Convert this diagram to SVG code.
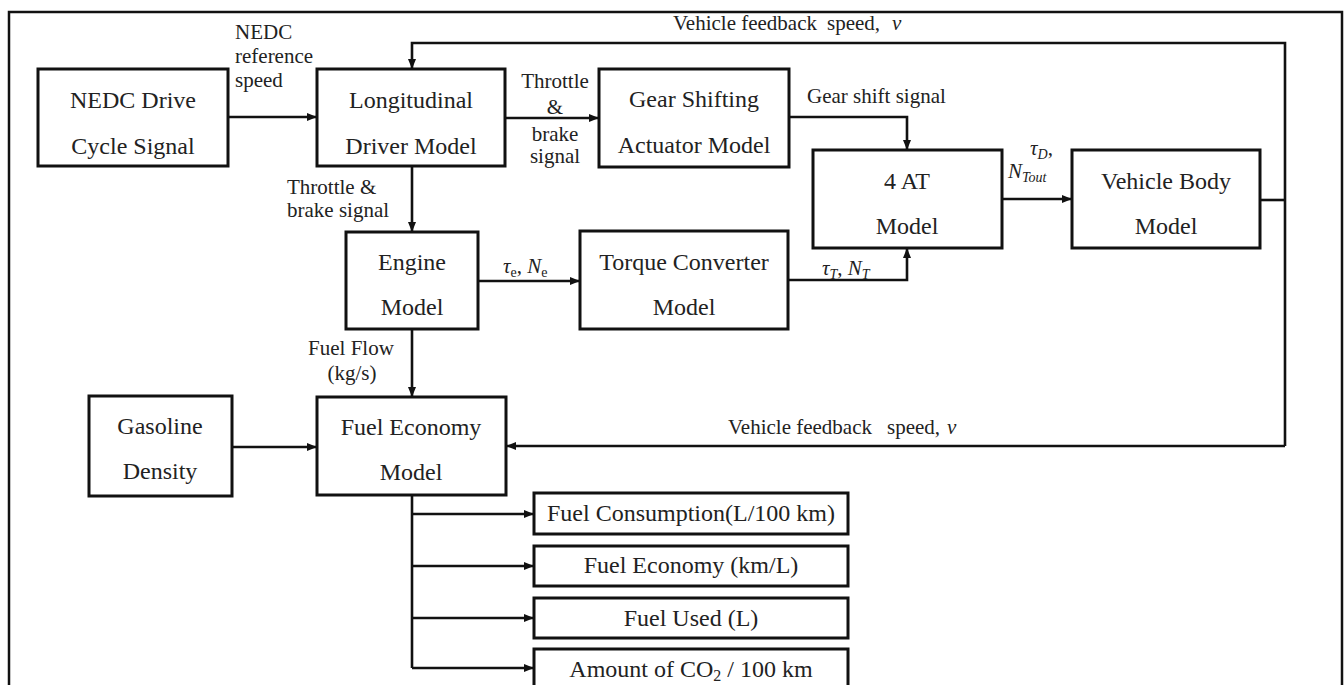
<svg xmlns="http://www.w3.org/2000/svg" width="1344" height="685" viewBox="0 0 1344 685">
<style>
.box{fill:#fff;stroke:#111;stroke-width:3}
.ln{fill:none;stroke:#111;stroke-width:2.6}
.t{font-family:"Liberation Serif","Times New Roman",serif;font-size:24px;fill:#222;text-anchor:middle}
.s{font-family:"Liberation Serif","Times New Roman",serif;font-size:21px;fill:#222}
.m{font-style:italic}
</style>
<defs>
<marker id="ah" markerUnits="userSpaceOnUse" markerWidth="10" markerHeight="8" refX="10" refY="4" orient="auto">
<path d="M0,0 L10,4 L0,8 z" fill="#111"/>
</marker>
</defs>
<rect width="1344" height="685" fill="#fff"/>
<path d="M9,690 V12 H1342 V690" fill="none" stroke="#111" stroke-width="2.5"/>

<g id="connectors">
<path class="ln" d="M228,117 H317" marker-end="url(#ah)"/>
<path class="ln" d="M505,118 H599" marker-end="url(#ah)"/>
<path class="ln" d="M789,117 H907 V150" marker-end="url(#ah)"/>
<path class="ln" d="M412,166 V232" marker-end="url(#ah)"/>
<path class="ln" d="M478,281 H580" marker-end="url(#ah)"/>
<path class="ln" d="M788,280 H907 V248" marker-end="url(#ah)"/>
<path class="ln" d="M1002,199 H1072" marker-end="url(#ah)"/>
<path class="ln" d="M1260,200 H1285"/>
<path class="ln" d="M1285,446 V43 H412 V69" marker-end="url(#ah)"/>
<path class="ln" d="M1285,446 H506" marker-end="url(#ah)"/>
<path class="ln" d="M412,329 V397" marker-end="url(#ah)"/>
<path class="ln" d="M232,447 H317" marker-end="url(#ah)"/>
<path class="ln" d="M412,495 V668"/>
<path class="ln" d="M412,514 H534" marker-end="url(#ah)"/>
<path class="ln" d="M412,566 H534" marker-end="url(#ah)"/>
<path class="ln" d="M412,618 H534" marker-end="url(#ah)"/>
<path class="ln" d="M412,668 H534" marker-end="url(#ah)"/>
</g>

<g id="labels">
<text class="s" x="235" y="39">NEDC</text>
<text class="s" x="235" y="63">reference</text>
<text class="s" x="235" y="87">speed</text>
<text class="s" text-anchor="middle"><tspan x="555" y="88">Throttle</tspan><tspan x="555" y="114">&amp;</tspan><tspan x="555" y="141">brake</tspan><tspan x="555" y="163">signal</tspan></text>
<text class="s" x="287" y="194">Throttle &amp;</text>
<text class="s" x="287" y="217">brake signal</text>
<text class="s" x="807" y="103">Gear shift signal</text>
<text class="s"><tspan x="673" y="30">Vehicle feedback</tspan><tspan x="827" y="30">speed,</tspan><tspan class="m" x="892" y="30">v</tspan></text>
<text class="s"><tspan x="728" y="434">Vehicle feedback</tspan><tspan x="887" y="434">speed,</tspan><tspan class="m" x="947" y="434">v</tspan></text>
<text class="s" text-anchor="middle"><tspan x="351" y="355">Fuel Flow</tspan><tspan x="352" y="380">(kg/s)</tspan></text>
<text class="s" x="503" y="273"><tspan class="m">τ</tspan><tspan font-size="14" dy="4">e</tspan><tspan dy="-4">, </tspan><tspan class="m">N</tspan><tspan font-size="14" dy="4">e</tspan></text>
<text class="s" x="822" y="275"><tspan class="m">τ</tspan><tspan class="m" font-size="14" dy="4">T</tspan><tspan dy="-4">, </tspan><tspan class="m">N</tspan><tspan class="m" font-size="14" dy="4">T</tspan></text>
<text class="s" x="1030" y="155"><tspan class="m">τ</tspan><tspan class="m" font-size="14" dy="4">D</tspan><tspan dy="-4">,</tspan></text>
<text class="s" x="1008" y="178"><tspan class="m">N</tspan><tspan class="m" font-size="14" dy="4">Tout</tspan></text>
</g>

<g id="nedc"><rect class="box" x="38" y="69" width="190" height="97"/><text class="t" x="133" y="108">NEDC Drive</text><text class="t" x="133" y="154">Cycle Signal</text></g>
<g id="driver"><rect class="box" x="317" y="69" width="188" height="97"/><text class="t" x="411" y="108">Longitudinal</text><text class="t" x="411" y="154">Driver Model</text></g>
<g id="gear"><rect class="box" x="599" y="69" width="190" height="98"/><text class="t" x="694" y="107">Gear Shifting</text><text class="t" x="694" y="153">Actuator Model</text></g>
<g id="at4"><rect class="box" x="813" y="150" width="189" height="98"/><text class="t" x="907" y="189">4 AT</text><text class="t" x="907" y="234">Model</text></g>
<g id="body"><rect class="box" x="1072" y="150" width="188" height="98"/><text class="t" x="1166" y="189">Vehicle Body</text><text class="t" x="1166" y="234">Model</text></g>
<g id="engine"><rect class="box" x="346" y="232" width="132" height="97"/><text class="t" x="412" y="270">Engine</text><text class="t" x="412" y="315">Model</text></g>
<g id="torque"><rect class="box" x="580" y="231" width="208" height="98"/><text class="t" x="684" y="270">Torque Converter</text><text class="t" x="684" y="315">Model</text></g>
<g id="fueleco"><rect class="box" x="317" y="397" width="189" height="98"/><text class="t" x="411" y="435">Fuel Economy</text><text class="t" x="411" y="480">Model</text></g>
<g id="gasoline"><rect class="box" x="89" y="396" width="143" height="100"/><text class="t" x="160" y="434">Gasoline</text><text class="t" x="160" y="479">Density</text></g>
<g id="out1"><rect class="box" x="534" y="493" width="314" height="41"/><text class="t" x="691" y="521">Fuel Consumption(L/100 km)</text></g>
<g id="out2"><rect class="box" x="534" y="546" width="314" height="40"/><text class="t" x="691" y="573">Fuel Economy (km/L)</text></g>
<g id="out3"><rect class="box" x="534" y="598" width="314" height="40"/><text class="t" x="691" y="626">Fuel Used (L)</text></g>
<g id="out4"><rect class="box" x="534" y="649" width="314" height="45"/><text class="t" x="691" y="677">Amount of CO<tspan font-size="16" dy="4">2</tspan><tspan dy="-4"> / 100 km</tspan></text></g>
</svg>
